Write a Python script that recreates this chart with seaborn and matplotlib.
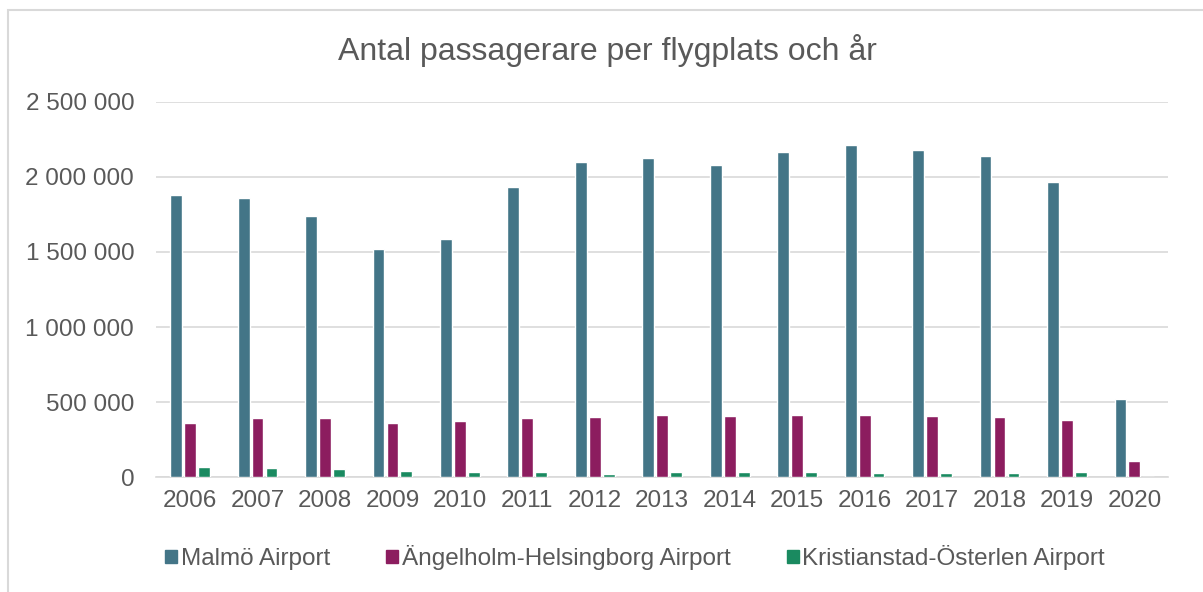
import matplotlib
matplotlib.use("Agg")
import matplotlib.pyplot as plt
import matplotlib.patches as mpatches
from matplotlib.ticker import FuncFormatter, MultipleLocator
import seaborn as sns
import pandas as pd

years = [str(y) for y in range(2006, 2021)]
airports = ["Malmö Airport", "Ängelholm-Helsingborg Airport", "Kristianstad-Österlen Airport"]
malmo = [1880000, 1860000, 1740000, 1520000, 1587000, 1933000, 2100000, 2127000,
         2080000, 2167000, 2213000, 2180000, 2140000, 1967000, 520000]
angelholm = [362000, 391000, 391000, 362000, 375000, 393000, 402000, 411000,
             407000, 411000, 411000, 407000, 400000, 380000, 105000]
kristianstad = [69000, 62000, 51000, 38000, 36000, 36000, 20000, 31000,
                34000, 31000, 29000, 29000, 29000, 36000, 3000]
colors = ["#437587", "#8C1D5F", "#1A8A60"]

rows = []
for name, vals in zip(airports, [malmo, angelholm, kristianstad]):
    for y, v in zip(years, vals):
        rows.append({"År": y, "Flygplats": name, "Passagerare": v})
df = pd.DataFrame(rows)

sns.set_theme(style="white")
plt.rcParams["font.family"] = ["Liberation Sans", "DejaVu Sans"]
text_color = "#595959"

fig = plt.figure(figsize=(12.03, 5.92), dpi=100)
ax = fig.add_axes([0.13, 0.194, 0.841, 0.634])

sns.barplot(data=df, x="År", y="Passagerare", hue="Flygplats", hue_order=airports,
            palette=colors, width=0.62, gap=0.15, ax=ax, legend=False,
            saturation=1, errorbar=None, zorder=3)

ax.set_ylim(0, 2500000)
ax.yaxis.set_major_locator(MultipleLocator(500000))
ax.yaxis.set_major_formatter(FuncFormatter(lambda v, p: f"{int(v):,}".replace(",", " ")))
ax.grid(axis="y", color="#d9d9d9", linewidth=1.2, zorder=0)
ax.set_axisbelow(True)
for s in ["top", "right", "left"]:
    ax.spines[s].set_visible(False)
ax.spines["bottom"].set_color("#d9d9d9")
ax.spines["bottom"].set_linewidth(1.2)
ax.set_xlabel("")
ax.set_ylabel("")
ax.tick_params(axis="both", length=0, labelsize=17.5, colors=text_color)
ax.tick_params(axis="y", pad=16)
ax.tick_params(axis="x", pad=9)
ax.set_xlim(-0.5, len(years) - 0.5)

fig.text(0.505, 0.915, "Antal passagerare per flygplats och år", ha="center", va="center",
         fontsize=23, color=text_color)

handles = [mpatches.Patch(color=c, label=l) for c, l in zip(colors, airports)]
leg = fig.legend(handles=handles, loc="center", bbox_to_anchor=(0.528, 0.058), ncol=3,
                 frameon=False, fontsize=17.5, handlelength=0.5, handleheight=0.5,
                 handletextpad=0.15, columnspacing=2.3)
for t in leg.get_texts():
    t.set_color(text_color)

fig.patches.append(mpatches.Rectangle((0.007, -0.01), 0.995, 0.993, transform=fig.transFigure,
                                      fill=False, edgecolor="#d9d9d9", linewidth=1.5))

fig.savefig("out.png", dpi=100)
